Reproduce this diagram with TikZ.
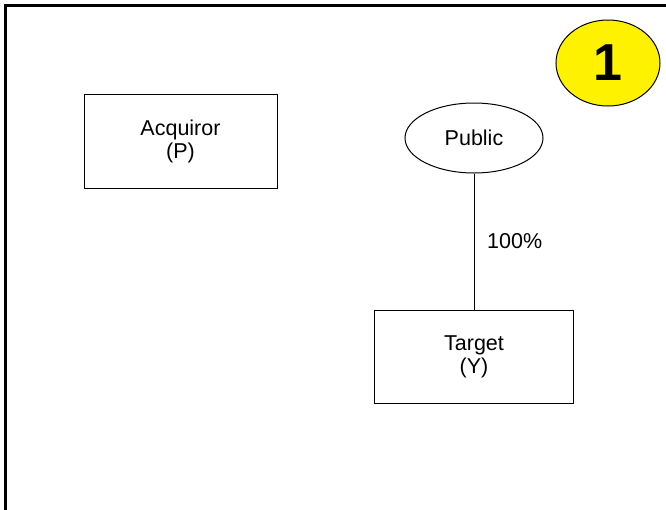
\documentclass[tikz,border=0pt]{standalone}
\usepackage{fontspec}
\setmainfont{Liberation Sans}
\usetikzlibrary{shapes.geometric}

\begin{document}
\begin{tikzpicture}[x=0.5pt,y=-0.5pt,thin]
    % `entity' is used for the company boxes.
    % `holder' is used for the public shareholders (ellipse).
    % `step' would clash with tikz, so the yellow badge is `stepbadge'.
    \tikzstyle{entity} = [draw,fill=white,line width=0.5pt,align=center,
                          font=\fontsize{10.75}{11.5}\selectfont]
    \tikzstyle{holder} = [draw,ellipse,line width=0.5pt,inner sep=0pt,
                          font=\fontsize{10.75}{11.5}\selectfont]
    \tikzstyle{stepbadge} = [draw,ellipse,fill=yellow,line width=0.5pt,
                             inner sep=0pt,font=\fontsize{26}{26}\bfseries]
    \useasboundingbox (0,0) rectangle (666,510);
    %
    % Frame (only the top and left edges show).
    \draw[line width=1.5pt] (5.5,512) -- (5.5,5) -- (668,5);
    %
    \node[stepbadge,minimum width=52pt,minimum height=43pt] (badge) at (608,63) {1};
    \node[entity,minimum width=96.5pt,minimum height=47pt] (acq) at (180.5,141)
        {Acquiror\\(P)};
    \node[holder,minimum width=69pt,minimum height=35pt] (pub) at (474,138) {Public};
    \node[entity,minimum width=99.5pt,minimum height=46.5pt] (tgt) at (474,356.5)
        {Target\\(Y)};
    %
    % Ownership line.
    \draw[line width=0.5pt] (pub) -- (tgt)
        node[midway,right=3pt,font=\fontsize{10.75}{11.5}\selectfont] (own) {100\%};
\end{tikzpicture}
\end{document}
